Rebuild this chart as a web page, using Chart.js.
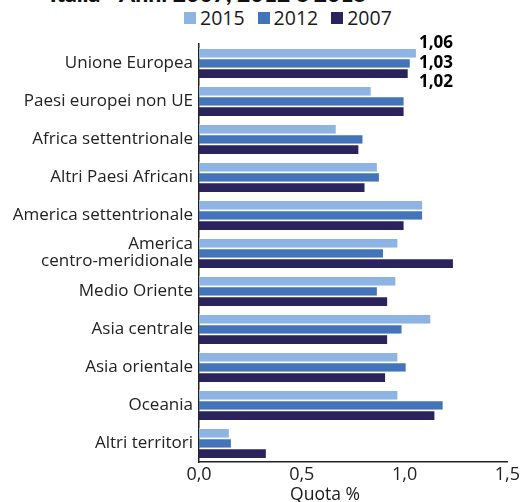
<!DOCTYPE html>
<html>
<head>
<meta charset="utf-8">
<script src="https://cdn.jsdelivr.net/npm/chart.js@4"></script>
<style>
  html, body { margin: 0; padding: 0; background: #fff; overflow: hidden; }
  body { width: 522px; height: 502px; position: relative; font-family: "Open Sans", sans-serif; color: #1a1a1a; }
  #wrap { position: absolute; left: 0; top: 0; width: 522px; height: 502px; }
  #title { position: absolute; right: 155px; top: -21px; font-family: Lato, sans-serif; font-weight: 900; font-size: 23px; white-space: nowrap; color: #111; }
  #legend { position: absolute; left: 184px; top: 7px; display: flex; font-size: 19.5px; line-height: 22px; }
  #legend .item { display: flex; align-items: center; margin-right: 13px; }
  #legend .box { width: 12px; height: 12px; margin-right: 4px; }
  #xtitle { position: absolute; left: 325px; top: 481px; transform: translateX(-50%); font-size: 17.5px; white-space: nowrap; }
</style>
</head>
<body>
<div id="title">Italia - Anni 2007, 2012 e 2015</div>
<div id="legend"></div>
<div id="wrap"><canvas id="chart" width="522" height="502"></canvas></div>
<div id="xtitle">Quota %</div>
<script>
// ── Data ───────────────────────────────────────────────────
const categories = [
  'Unione Europea',
  'Paesi europei non UE',
  'Africa settentrionale',
  'Altri Paesi Africani',
  'America settentrionale',
  ['America', 'centro-meridionale'],
  'Medio Oriente',
  'Asia centrale',
  'Asia orientale',
  'Oceania',
  'Altri territori',
];
const seriesNames = ['2015', '2012', '2007'];
const values2015 = [1.06, 0.84, 0.67, 0.87, 1.09, 0.97, 0.96, 1.13, 0.97, 0.97, 0.15];
const values2012 = [1.03, 1.00, 0.80, 0.88, 1.09, 0.90, 0.87, 0.99, 1.01, 1.19, 0.16];
const values2007 = [1.02, 1.00, 0.78, 0.81, 1.00, 1.24, 0.92, 0.92, 0.91, 1.15, 0.33];
const xTicks = [0, 0.5, 1.0, 1.5];
const labelledCategory = 0; // only the first group carries value labels

const colors = ['#8eb4e3', '#4373b9', '#2b245c'];
const fontFamily = '"Open Sans", sans-serif';
const fmt = v => v.toFixed(2).replace('.', ',');

// ── HTML legend ────────────────────────────────────────────
document.getElementById('legend').innerHTML = seriesNames.map((n, i) => `
  <div class="item"><span class="box" style="background:${colors[i]}"></span>${n}</div>
`).join('');

// ── Value labels on the first group ───────────────────────
const valueLabels = {
  id: 'valueLabels',
  afterDatasetsDraw(chart) {
    const ctx = chart.ctx;
    const metas = chart.data.datasets.map((d, i) => chart.getDatasetMeta(i));
    const maxEnd = Math.max(...metas.map(m => m.data[labelledCategory].x));
    ctx.save();
    ctx.font = `bold 17px ${fontFamily}`;
    ctx.fillStyle = '#000';
    ctx.textAlign = 'left';
    ctx.textBaseline = 'middle';
    metas.forEach((m, i) => {
      const bar = m.data[labelledCategory];
      const v = chart.data.datasets[i].data[labelledCategory];
      ctx.fillText(fmt(v), maxEnd + 2, bar.y + (i - 1) * 9.5);
    });
    ctx.restore();
  },
};

new Chart(document.getElementById('chart'), {
  type: 'bar',
  data: {
    labels: categories,
    datasets: [values2015, values2012, values2007].map((data, i) => ({
      label: seriesNames[i],
      data,
      backgroundColor: colors[i],
      borderColor: 'rgba(255,255,255,0.55)',
      borderWidth: { top: 1, bottom: 0, left: 0, right: 1 },
      borderSkipped: false,
      categoryPercentage: 0.8,
      barPercentage: 0.96,
    })),
  },
  options: {
    indexAxis: 'y',
    responsive: false,
    animation: false,
    layout: { padding: { top: 44, right: 12, left: 0, bottom: 0 } },
    scales: {
      x: {
        min: 0,
        max: 1.5,
        afterBuildTicks: s => { s.ticks = xTicks.map(v => ({ value: v })); },
        afterFit: s => { s.height = 40; },
        grid: { display: false, drawTicks: false },
        border: { display: true, color: '#222', width: 1.5 },
        ticks: {
          color: '#222',
          padding: 2,
          font: { family: fontFamily, size: 18 },
          callback: v => Number(v).toFixed(1).replace('.', ','),
        },
      },
      y: {
        afterFit: s => { s.width = 199; },
        grid: { display: false, drawTicks: false },
        border: { display: true, color: '#222', width: 1.5 },
        ticks: {
          color: '#222',
          padding: 6,
          font: { family: fontFamily, size: 17, lineHeight: 1.0 },
        },
      },
    },
    plugins: {
      legend: { display: false },
      tooltip: { enabled: false },
    },
  },
  plugins: [valueLabels],
});
</script>
</body>
</html>
